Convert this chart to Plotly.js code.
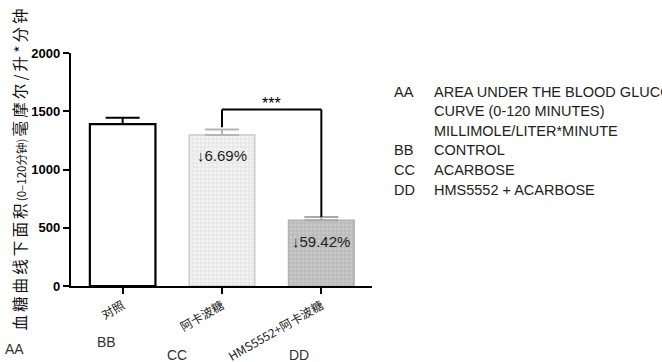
<!DOCTYPE html>
<html>
<head>
<meta charset="utf-8">
<script src="https://cdn.plot.ly/plotly-3.0.1.min.js"></script>
<style>html,body{margin:0;padding:0;background:#fff;}#chart{width:662px;height:362px;}</style>
</head>
<body>
<div id="chart"></div>
<script>
// ---- data ----
const categories = ['对照', '阿卡波糖', 'HMS5552+阿卡波糖'];
const means = [1390, 1297, 564];
const errors = [55, 46, 28];
const pctLabels = ['', '↓6.69%', '↓59.42%'];
const groupCodes = ['BB', 'CC', 'DD'];
const yTicks = [0, 500, 1000, 1500, 2000];
const bracketPair = [1, 2];
const bracketTop = 1515;
const sigLabel = '***';
const legendCodes = ['AA', '', '', 'BB', 'CC', 'DD'];
const legendTexts = ['AREA UNDER THE BLOOD GLUCOSE', 'CURVE (0-120 MINUTES)', 'MILLIMOLE/LITER*MINUTE', 'CONTROL', 'ACARBOSE', 'HMS5552 + ACARBOSE'];
const yTitle = '血\u2009糖\u2009曲\u2009线\u2009下\u2009面\u2009积<span style="font-size:11.5px">\u2009(0–120分钟)\u2009</span>毫\u2009摩\u2009尔\u2009/\u2009升\u2009*\u2009分\u2009钟';

// ---- styles ----
const styles = [
  {fill: '#ffffff', pat: null, line: '#000000', lw: 2.2, err: '#000000'},
  {fill: '#f3f3f3', pat: {shape: '+', bgcolor: '#f3f3f3', fgcolor: '#d9d9d9', size: 4, solidity: 0.25}, line: '#cccccc', lw: 1.5, err: '#b5b5b5'},
  {fill: '#c6c6c6', pat: {shape: '+', bgcolor: '#c8c8c8', fgcolor: '#a9a9a9', size: 4, solidity: 0.25}, line: '#b3b3b3', lw: 1.5, err: '#a8a8a8'}
];

const FONT = 'Liberation Sans, Arial, Noto Sans CJK SC, sans-serif';
const CJK = 'Noto Sans CJK SC, Liberation Sans, sans-serif';

const traces = categories.map((c, i) => {
  const m = {color: styles[i].fill, line: {color: styles[i].line, width: styles[i].lw}};
  if (styles[i].pat) m.pattern = styles[i].pat;
  return {
    type: 'bar', x: [c], y: [means[i]], width: 0.66, marker: m,
    error_y: {type: 'data', symmetric: false, array: [errors[i]], arrayminus: [0], color: styles[i].err, thickness: 2, width: 17},
    hoverinfo: 'skip', showlegend: false
  };
});

const annotations = [];
categories.forEach((c, i) => {
  if (pctLabels[i]) annotations.push({x: c, y: means[i] - 180, xref: 'x', yref: 'y', text: pctLabels[i], showarrow: false,
    font: {family: FONT, size: 15, color: '#222'}, xanchor: 'center', yanchor: 'middle'});
});
// significance
const bx0 = categories[bracketPair[0]], bx1 = categories[bracketPair[1]];
annotations.push({x: 1.5, y: bracketTop, xref: 'x', yref: 'y', text: sigLabel, showarrow: false,
  font: {family: FONT, size: 16, color: '#000'}, yanchor: 'bottom', yshift: -4});
// group codes under axis
const codePos = [[106, 342], [177, 355], [299, 355]];
const pxX = x => (x - 71) / 301, pxY = y => (286 - y) / 233;
groupCodes.forEach((g, i) => annotations.push({x: pxX(codePos[i][0]), y: pxY(codePos[i][1]), xref: 'paper', yref: 'paper',
  text: g, showarrow: false, font: {family: FONT, size: 14, color: '#333'}, xanchor: 'center', yanchor: 'middle'}));
annotations.push({x: pxX(14), y: pxY(349), xref: 'paper', yref: 'paper', text: 'AA', showarrow: false,
  font: {family: FONT, size: 14, color: '#333'}, xanchor: 'center', yanchor: 'middle'});
// right-side key
legendTexts.forEach((t, i) => {
  const yy = pxY(91.5 + i * 19.6);
  if (legendCodes[i]) annotations.push({x: pxX(392), y: yy, xref: 'paper', yref: 'paper', text: legendCodes[i], showarrow: false,
    font: {family: FONT, size: 14.5, color: '#222'}, xanchor: 'left', yanchor: 'middle'});
  annotations.push({x: pxX(432), y: yy, xref: 'paper', yref: 'paper', text: t, showarrow: false,
    font: {family: FONT, size: 14.5, color: '#222'}, xanchor: 'left', yanchor: 'middle'});
});

const shapes = [
  {type: 'line', xref: 'x', yref: 'y', x0: bx0, x1: bx0, y0: means[bracketPair[0]] + errors[bracketPair[0]] + 20, y1: bracketTop, line: {color: '#000', width: 2}},
  {type: 'line', xref: 'x', yref: 'y', x0: bx0, x1: bx1, y0: bracketTop, y1: bracketTop, line: {color: '#000', width: 2}},
  {type: 'line', xref: 'x', yref: 'y', x0: bx1, x1: bx1, y0: bracketTop, y1: means[bracketPair[1]] + errors[bracketPair[1]], line: {color: '#000', width: 2}}
];

const layout = {
  width: 662, height: 362,
  margin: {l: 71, r: 290, t: 53, b: 76, pad: 0},
  paper_bgcolor: '#fff', plot_bgcolor: '#fff',
  barmode: 'overlay',
  xaxis: {type: 'category', range: [-0.52, 2.51], showline: true, linecolor: '#000', linewidth: 2.2,
    ticks: 'outside', ticklen: 6, tickwidth: 2, tickcolor: '#000', tickangle: -30,
    tickfont: {family: CJK, size: 12, color: '#222'}, showgrid: false, zeroline: false, fixedrange: true},
  yaxis: {range: [0, 2000], tickvals: yTicks, ticktext: yTicks.map(String), showline: true, linecolor: '#000', linewidth: 2.2,
    ticks: 'outside', ticklen: 6, tickwidth: 2, tickcolor: '#000',
    tickfont: {family: FONT, size: 13, color: '#000', weight: 'bold'}, showgrid: false, zeroline: false,
    title: {text: yTitle, font: {family: CJK, size: 15.5, color: '#111'}, standoff: 1}},
  annotations: annotations, shapes: shapes
};

Plotly.newPlot('chart', traces, layout, {displayModeBar: false, staticPlot: true});
</script>
</body>
</html>
